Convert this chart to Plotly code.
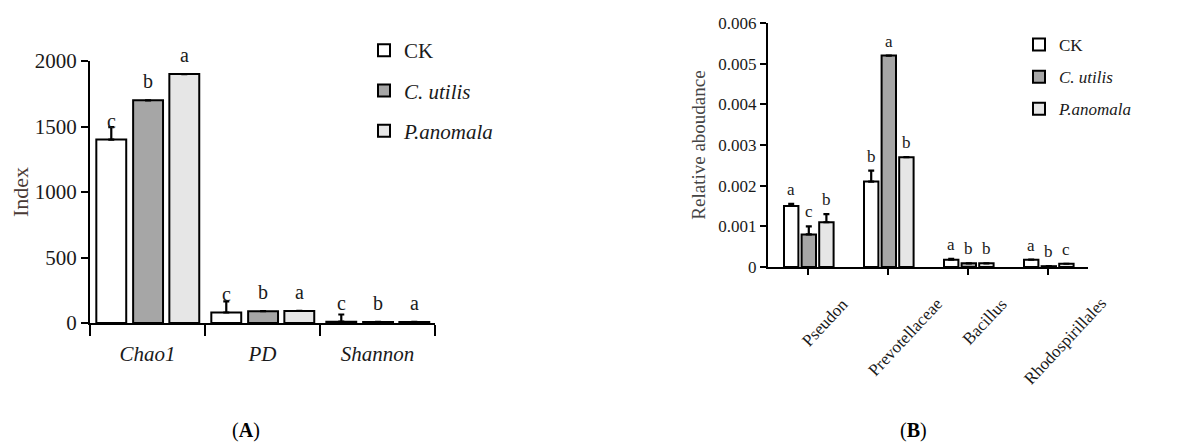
import plotly.graph_objects as go

# ---------------- data ----------------
groups_a = ["Chao1", "PD", "Shannon"]
ck_a = [1400, 80, 10]
cu_a = [1700, 90, 8]
pa_a = [1900, 92, 8]
ck_a_err = [95, 85, 55]
cu_a_err = [None, None, None]
pa_a_err = [None, None, None]
ck_a_sig = ["c", "c", "c"]
cu_a_sig = ["b", "b", "b"]
pa_a_sig = ["a", "a", "a"]

groups_b = ["Pseudon", "Prevotellaceae", "Bacillus", "Rhodospirillales"]
ck_b = [0.0015, 0.0021, 0.00018, 0.00018]
cu_b = [0.0008, 0.0052, 0.00009, 0.00002]
pa_b = [0.0011, 0.0027, 0.00009, 0.00008]
ck_b_err = [0.00005, 0.00027, 0.00002, None]
cu_b_err = [0.0002, None, None, None]
pa_b_err = [0.0002, None, None, None]
ck_b_sig = ["a", "b", "a", "a"]
cu_b_sig = ["c", "a", "b", "b"]
pa_b_sig = ["b", "b", "b", "c"]

series_names = ["CK", "<i>C. utilis</i>", "<i>P.anomala</i>"]
series_colors = ["#ffffff", "#a6a6a6", "#e6e6e6"]

# ---------------- style ----------------
FONT = "Times New Roman, Liberation Serif, serif"
TXT = "#1a1a1a"
W_A, OFF_A = 0.26, [-0.445, -0.125, 0.19]
W_B, OFF_B = 0.18, [-0.30, -0.08, 0.14]

# page has an 8px body margin: figure starts at (8, 8) and fills the rest
PAD, FW, FH = 8, 1183, 440


def px(x):
    return (x - PAD) / FW


def py(y):
    return 1 - (y - PAD) / FH


fig = go.Figure()
annotations = []


def add_panel(groups, vals, errs, sigs, xref, yref, width, offsets, legend,
              sig_on_err, sig_size, sig_shift):
    for k in range(3):
        err = errs[k]
        fig.add_trace(go.Bar(
            x=groups, y=vals[k], name=series_names[k],
            width=width, offset=offsets[k],
            marker=dict(color=series_colors[k], line=dict(color="black", width=2)),
            error_y=dict(type="data", symmetric=False, array=err,
                         arrayminus=[0 if e is not None else None for e in err],
                         color="black", thickness=2.2, width=3),
            xaxis=xref, yaxis=yref, legend=legend, legendgroup=legend + str(k),
            showlegend=True,
        ))
        for i, g in enumerate(groups):
            top = vals[k][i]
            if sig_on_err and err[i] is not None:
                top = top + err[i]
            annotations.append(dict(
                x=i + offsets[k] + width / 2, y=top,
                xref=xref.replace("axis", ""), yref=yref.replace("axis", ""),
                text=sigs[k][i], showarrow=False, xanchor="center", yanchor="bottom",
                yshift=sig_shift, font=dict(family=FONT, size=sig_size, color=TXT),
            ))


add_panel(groups_a, [ck_a, cu_a, pa_a], [ck_a_err, cu_a_err, pa_a_err],
          [ck_a_sig, cu_a_sig, pa_a_sig], "x", "y", W_A, OFF_A, "legend",
          False, 20, 6)
add_panel(groups_b, [ck_b, cu_b, pa_b], [ck_b_err, cu_b_err, pa_b_err],
          [ck_b_sig, cu_b_sig, pa_b_sig], "x2", "y2", W_B, OFF_B, "legend2",
          True, 17, 3)

# rotated category labels for panel B
for i, g in enumerate(groups_b):
    annotations.append(dict(
        x=i, y=py(292), xref="x2", yref="paper", text=g,
        showarrow=False, textangle=-47, xanchor="center", yanchor="top",
        xshift=17, font=dict(family=FONT, size=17, color=TXT),
    ))

# panel captions
annotations.append(dict(x=px(246), y=py(430), xref="paper", yref="paper",
                        xanchor="center", yanchor="middle",
                        text="(<b>A</b>)", showarrow=False,
                        font=dict(family=FONT, size=20, color="black")))
annotations.append(dict(x=px(913), y=py(430), xref="paper", yref="paper",
                        xanchor="center", yanchor="middle",
                        text="(<b>B</b>)", showarrow=False,
                        font=dict(family=FONT, size=20, color="black")))

axis_common = dict(showline=True, linecolor="black", linewidth=2, showgrid=False,
                   zeroline=False, ticks="outside", tickcolor="black", tickwidth=2,
                   automargin=False)

fig.update_layout(
    template="none",
    width=FW, height=FH, margin=dict(l=0, r=0, t=0, b=0),
    paper_bgcolor="white", plot_bgcolor="white",
    font=dict(family=FONT, color=TXT),
    barmode="group",
    xaxis=dict(**axis_common, domain=[px(90), px(435)], anchor="y",
               type="category", range=[-0.5, 2.5], tickson="boundaries",
               ticklen=11, ticklabelstandoff=11,
               tickfont=dict(family=FONT, size=21, style="italic", color=TXT)),
    yaxis=dict(**axis_common, domain=[py(323), py(61)], anchor="x",
               range=[0, 2000], dtick=500, tickformat="d", ticklen=7,
               tickfont=dict(family=FONT, size=21, color=TXT),
               title=dict(text="Index", font=dict(family=FONT, size=22, color="#4a3a35"),
                          standoff=6)),
    xaxis2=dict(**axis_common, domain=[px(768), px(1088)], anchor="y2",
                type="category", range=[-0.5, 3.5], ticklen=6,
                showticklabels=False),
    yaxis2=dict(**axis_common, domain=[py(267), py(23)], anchor="x2",
                range=[0, 0.006], dtick=0.001, ticklen=6,
                tickfont=dict(family=FONT, size=17, color=TXT),
                title=dict(text="Relative aboudance",
                           font=dict(family=FONT, size=19, color="#444444"),
                           standoff=8)),
    legend=dict(x=px(364), y=py(30), xanchor="left", yanchor="top",
                bgcolor="rgba(0,0,0,0)", tracegroupgap=10, borderwidth=0,
                font=dict(family=FONT, size=21, color=TXT)),
    legend2=dict(x=px(1019), y=py(27), xanchor="left", yanchor="top",
                 bgcolor="rgba(0,0,0,0)", tracegroupgap=7, borderwidth=0,
                 font=dict(family=FONT, size=17, color=TXT)),
    annotations=annotations,
)

fig.write_html("out.html")
